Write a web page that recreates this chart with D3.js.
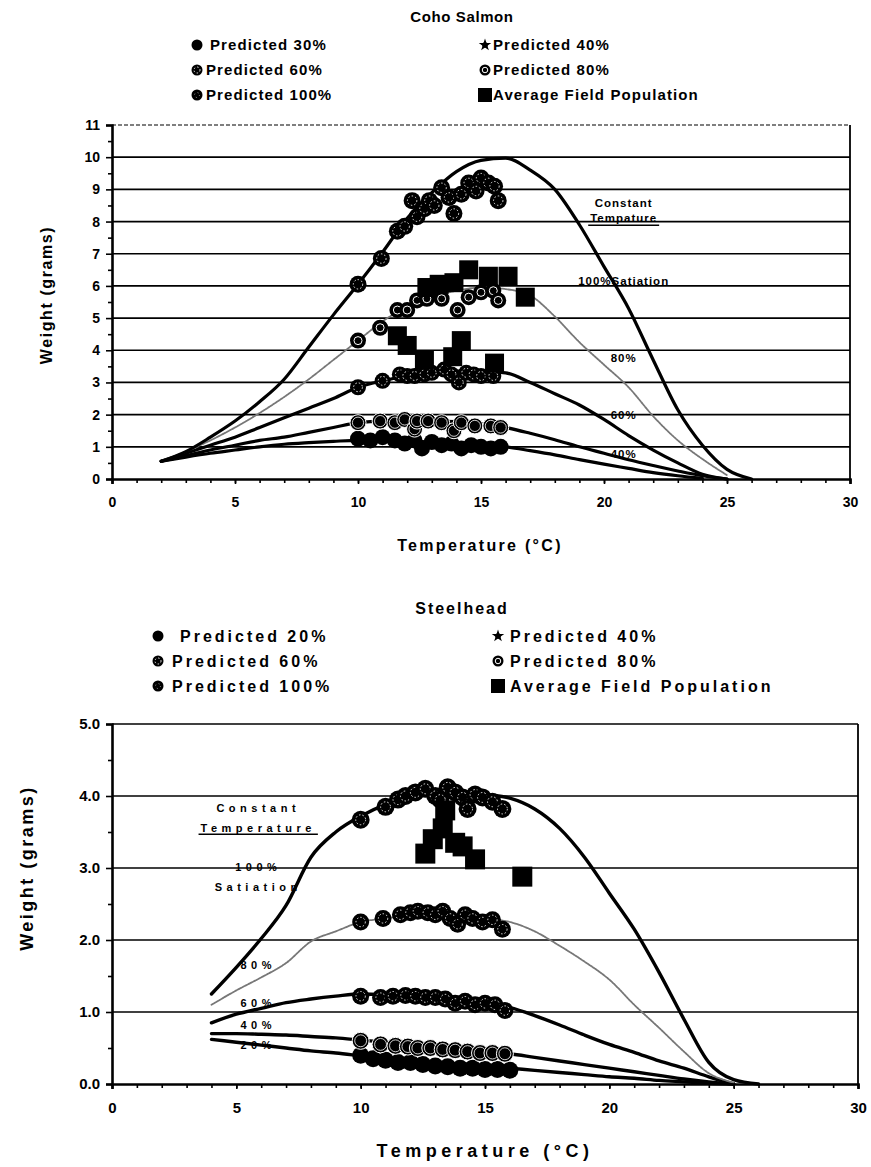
<!DOCTYPE html>
<html>
<head>
<meta charset="utf-8">
<script src="https://cdn.jsdelivr.net/npm/d3@7"></script>
<style>
  body { margin: 0; background: #fff; }
  svg { display: block; font-family: "Liberation Sans", Arial, sans-serif; }
</style>
</head>
<body>
<svg id="chart" width="871" height="1167"></svg>
<script>
// ---------------- Coho Salmon ----------------
const cohoTemps = [2,3,4,5,6,7,8,9,10,11,12,13,14,15,16,17,18,19,20,21,22,23,24,25,26];
const cohoCurve100 = [0.55,0.85,1.3,1.8,2.4,3.1,4.1,5.1,6.05,7.05,8.1,8.9,9.55,9.9,9.97,9.6,9.0,7.9,6.6,5.3,3.7,2.15,1.05,0.3,0];
const cohoCurve80  = [0.55,0.85,1.2,1.6,2.05,2.55,3.1,3.7,4.3,4.9,5.35,5.65,5.85,5.95,5.9,5.7,5.05,4.25,3.55,2.85,1.95,1.2,0.62,0.12,null];
const cohoCurve60  = [0.55,0.8,1.05,1.3,1.6,1.9,2.2,2.5,2.85,3.05,3.2,3.3,3.35,3.35,3.3,3.0,2.65,2.3,1.85,1.35,0.9,0.5,0.15,0,null];
const cohoCurve40  = [0.55,0.72,0.9,1.05,1.2,1.3,1.45,1.6,1.75,1.8,1.8,1.8,1.78,1.72,1.6,1.42,1.22,1.0,0.8,0.6,0.42,0.25,0.1,0,null];
const cohoCurve30  = [0.55,0.68,0.8,0.9,1.0,1.08,1.13,1.17,1.2,1.2,1.18,1.15,1.1,1.05,1.0,0.88,0.75,0.6,0.46,0.33,0.2,0.1,0.02,null,null];

const cohoPred30 = [[10.0,1.25],[10.5,1.2],[11.0,1.3],[11.5,1.2],[11.9,1.1],[12.3,1.2],[12.6,0.95],[13.0,1.15],[13.4,1.05],[13.8,1.1],[14.2,0.95],[14.6,1.05],[15.0,1.0],[15.4,0.95],[15.8,1.0]];
const cohoPred40 = [[10.0,1.75],[10.9,1.8],[11.5,1.75],[11.9,1.85],[12.3,1.55],[12.4,1.8],[12.85,1.8],[13.4,1.75],[13.9,1.5],[14.2,1.75],[14.75,1.65],[15.4,1.65],[15.8,1.6]];
const cohoPred60 = [[10.0,2.85],[11.0,3.05],[11.7,3.25],[12.0,3.2],[12.3,3.2],[12.7,3.25],[13.0,3.3],[13.5,3.4],[13.8,3.25],[14.1,3.0],[14.4,3.3],[14.7,3.25],[15.0,3.2],[15.5,3.2]];
const cohoPred80 = [[10.0,4.3],[10.9,4.7],[11.6,5.25],[12.0,5.25],[12.4,5.55],[12.8,5.6],[13.4,5.6],[14.05,5.25],[14.5,5.65],[15.0,5.8],[15.5,5.85],[15.7,5.55]];
const cohoPred100 = [[10.0,6.05],[10.95,6.85],[11.6,7.7],[11.9,7.85],[12.2,8.65],[12.4,8.15],[12.7,8.4],[12.9,8.65],[13.1,8.5],[13.4,9.05],[13.7,8.75],[13.9,8.25],[14.2,8.85],[14.5,9.2],[14.8,8.95],[15.0,9.35],[15.3,9.2],[15.55,9.1],[15.7,8.65]];
const cohoField = [[11.6,4.45],[12.0,4.15],[12.7,3.7],[13.85,3.8],[14.2,4.3],[15.55,3.6],[12.8,5.95],[13.3,6.05],[13.9,6.1],[14.5,6.5],[15.3,6.3],[16.1,6.3],[16.8,5.65]];

const cohoLegend = ["Predicted 30%","Predicted 40%","Predicted 60%","Predicted 80%","Predicted 100%","Average Field Population"];
const cohoYTicks = [0,1,2,3,4,5,6,7,8,9,10,11];
const cohoNotes = ["Constant","Tempature","100%Satiation","80%","60%","40%"];

// ---------------- Steelhead ----------------
const steelTemps = [4,5,6,7,8,9,10,11,12,13,14,15,16,17,18,19,20,21,22,23,24,25,26];
const steelCurve100 = [1.25,1.62,2.02,2.48,3.15,3.5,3.72,3.88,3.98,4.04,4.05,4.02,3.97,3.82,3.55,3.15,2.65,2.15,1.55,0.9,0.3,0.06,0];
const steelCurve80  = [1.1,1.3,1.48,1.68,1.98,2.12,2.25,2.3,2.35,2.36,2.34,2.3,2.25,2.12,1.92,1.7,1.45,1.1,0.78,0.45,0.15,0.02,null];
const steelCurve60  = [0.85,0.97,1.05,1.13,1.18,1.22,1.25,1.24,1.22,1.2,1.17,1.12,1.06,0.95,0.82,0.68,0.55,0.44,0.32,0.22,0.1,0,null];
const steelCurve40  = [0.7,0.7,0.69,0.68,0.66,0.64,0.61,0.58,0.55,0.52,0.49,0.45,0.42,0.37,0.32,0.27,0.22,0.17,0.12,0.07,0.03,0,null];
const steelCurve20  = [0.62,0.58,0.54,0.5,0.46,0.43,0.39,0.35,0.32,0.29,0.27,0.25,0.22,0.19,0.16,0.13,0.1,0.08,0.05,0.03,0.01,0,null];

const steelPred20 = [[10.0,0.4],[10.5,0.35],[11.0,0.33],[11.5,0.3],[12.0,0.3],[12.5,0.27],[13.0,0.25],[13.5,0.24],[14.0,0.22],[14.5,0.22],[15.0,0.2],[15.5,0.2],[16.0,0.19]];
const steelPred40 = [[10.0,0.6],[10.8,0.55],[11.4,0.53],[11.9,0.52],[12.3,0.5],[12.8,0.5],[13.3,0.48],[13.8,0.47],[14.3,0.45],[14.8,0.43],[15.3,0.43],[15.8,0.42]];
const steelPred60 = [[10.0,1.22],[10.8,1.2],[11.3,1.22],[11.8,1.23],[12.2,1.22],[12.6,1.2],[13.0,1.2],[13.4,1.18],[13.8,1.12],[14.2,1.15],[14.6,1.1],[15.0,1.12],[15.4,1.1],[15.8,1.02]];
const steelPred80 = [[10.0,2.25],[10.9,2.3],[11.6,2.35],[12.0,2.38],[12.3,2.4],[12.7,2.38],[13.0,2.35],[13.3,2.4],[13.6,2.3],[13.9,2.22],[14.2,2.35],[14.5,2.3],[14.9,2.25],[15.3,2.28],[15.7,2.15]];
const steelPred100 = [[10.0,3.67],[11.0,3.85],[11.5,3.95],[11.8,4.0],[12.2,4.05],[12.6,4.1],[13.0,4.0],[13.2,3.95],[13.5,4.12],[13.8,4.05],[14.1,3.98],[14.3,3.82],[14.6,4.02],[14.9,3.98],[15.3,3.92],[15.7,3.82]];
const steelField = [[12.6,3.2],[12.9,3.4],[13.3,3.55],[13.4,3.8],[13.8,3.35],[14.1,3.3],[14.6,3.12],[16.5,2.88]];

const steelLegend = ["Predicted 20%","Predicted 40%","Predicted 60%","Predicted 80%","Predicted 100%","Average Field Population"];
const steelYTicks = [0,1,2,3,4,5];
const steelNotes = ["Constant","Temperature","100%","Satiation","80%","60%","40%","20%"];

const xTicks = [0,5,10,15,20,25,30];
const xMinor = d3.range(0,31,1);

const svg = d3.select("#chart");

// marker painter: predicted points are black discs told apart by white inner detail
function marker(g, style, cx, cy, r) {
  if (style === "square") {
    g.append("rect").attr("x", cx - r).attr("y", cy - r).attr("width", 2*r).attr("height", 2*r).attr("fill", "#000");
    return;
  }
  if (style === "star") {
    g.append("path").attr("d", d3.symbol(d3.symbolStar, r*r*1.6)()).attr("transform", `translate(${cx},${cy})`).attr("fill", "#000");
    g.append("circle").attr("cx", cx).attr("cy", cy).attr("r", r*0.5).attr("fill", "#000");
    return;
  }
  g.append("circle").attr("cx", cx).attr("cy", cy).attr("r", r).attr("fill", "#000")
    .attr("stroke", style === "outline" ? "#fff" : "none").attr("stroke-width", 1);
  if (style === "speckle") {
    g.append("circle").attr("cx", cx).attr("cy", cy).attr("r", r*0.55).attr("fill", "none")
      .attr("stroke", "#fff").attr("stroke-width", 0.9).attr("stroke-dasharray", "1.5,2");
  } else if (style === "ring") {
    g.append("circle").attr("cx", cx).attr("cy", cy).attr("r", r*0.5).attr("fill", "none")
      .attr("stroke", "#fff").attr("stroke-width", 1);
  } else if (style === "outline") {
    g.append("circle").attr("cx", cx).attr("cy", cy).attr("r", r*0.7).attr("fill", "none")
      .attr("stroke", "#fff").attr("stroke-width", 0.8);
  } else if (style === "fleck") {
    g.append("circle").attr("cx", cx).attr("cy", cy).attr("r", r*0.45).attr("fill", "none")
      .attr("stroke", "#bbb").attr("stroke-width", 0.8).attr("stroke-dasharray", "1,3");
  }
}

function drawPanel(cfg) {
  const x = d3.scaleLinear().domain([0, 30]).range([cfg.left, cfg.right]);
  const y = d3.scaleLinear().domain([0, cfg.yMax]).range([cfg.bottom, cfg.top]);
  const g = svg.append("g");

  // title
  g.append("text").attr("x", cfg.titleX).attr("y", cfg.titleY).attr("text-anchor", "middle")
    .attr("font-size", cfg.titleSize).attr("font-weight", "bold")
    .style("letter-spacing", cfg.titleSpacing).text(cfg.title);

  // legend
  cfg.legend.forEach((label, i) => {
    const col = i % 2, row = Math.floor(i / 2);
    const mx = cfg.legendMarkerX[col], ty = cfg.legendRowY[row];
    marker(g, cfg.legendStyles[i], mx, ty, cfg.legendStyles[i] === "square" ? 7 : 5.5);
    g.append("text").attr("x", cfg.legendTextX[i]).attr("y", ty).attr("dy", "0.36em")
      .attr("font-size", cfg.legendSize).attr("font-weight", "bold")
      .style("letter-spacing", cfg.legendSpacing).text(label);
  });

  // horizontal gridlines
  g.append("g").selectAll("line").data(cfg.yTicks.filter(v => v > 0 && v < cfg.yMax)).join("line")
    .attr("x1", cfg.left).attr("x2", cfg.right).attr("y1", d => y(d)).attr("y2", d => y(d))
    .attr("stroke", "#000").attr("stroke-width", 1.7);

  // frame: top and right
  g.append("line").attr("x1", cfg.left).attr("x2", cfg.right).attr("y1", y(cfg.yMax)).attr("y2", y(cfg.yMax))
    .attr("stroke", cfg.topBorderColor).attr("stroke-width", 1.6).attr("stroke-dasharray", cfg.topBorderDash);
  g.append("line").attr("x1", cfg.right).attr("x2", cfg.right).attr("y1", y(cfg.yMax)).attr("y2", y(0))
    .attr("stroke", "#000").attr("stroke-width", 1.8);

  // annotations beneath the curves
  cfg.notes.forEach((t, i) => {
    const p = cfg.notePos[i];
    const tx = g.append("text").attr("x", x(p[0])).attr("y", y(p[1])).attr("dy", "0.36em")
      .attr("text-anchor", "middle").attr("font-size", cfg.noteSize).attr("font-weight", "bold")
      .style("letter-spacing", cfg.noteSpacing).text(t);
    if (cfg.underline.includes(i)) {
      const w = tx.node().getComputedTextLength();
      g.append("line").attr("x1", x(p[0]) - w/2 - 2).attr("x2", x(p[0]) + w/2 + 2)
        .attr("y1", y(p[1]) + cfg.noteSize*0.6).attr("y2", y(p[1]) + cfg.noteSize*0.6)
        .attr("stroke", "#000").attr("stroke-width", 1.5);
    }
  });

  // model curves
  const line = d3.line().defined(d => d[1] != null).x(d => x(d[0])).y(d => y(d[1])).curve(d3.curveMonotoneX);
  cfg.curves.forEach(c => {
    const pts = cfg.temps.map((t, i) => [t, c.values[i]]);
    g.append("path").attr("d", line(pts)).attr("fill", "none")
      .attr("stroke", c.color).attr("stroke-width", c.width)
      .attr("stroke-dasharray", c.dash || null).attr("stroke-linecap", "round");
  });

  // predicted points and field averages
  cfg.points.forEach(s => {
    const pg = g.append("g");
    s.data.forEach(d => marker(pg, s.style, x(d[0]), y(d[1]), s.r));
  });

  // axes
  const ya = g.append("g").attr("transform", `translate(${cfg.left},0)`)
    .call(d3.axisLeft(y).tickValues(cfg.yTicks).tickSize(6).tickPadding(6).tickFormat(cfg.yFormat));
  g.append("g").attr("transform", `translate(${cfg.left},0)`)
    .call(d3.axisLeft(y).tickValues(cfg.yMinor).tickSize(4).tickFormat(""))
    .call(a => a.select(".domain").remove());
  const xa = g.append("g").attr("transform", `translate(0,${cfg.bottom})`)
    .call(d3.axisBottom(x).tickValues(xTicks).tickSize(5).tickPadding(cfg.xPad).tickFormat(d3.format("d")));
  g.append("g").attr("transform", `translate(0,${cfg.bottom})`)
    .call(d3.axisBottom(x).tickValues(xMinor).tickSize(4).tickFormat(""))
    .call(a => a.select(".domain").remove());
  [ya, xa].forEach(a => {
    a.select(".domain").attr("stroke-width", 2.6).attr("stroke", "#000");
    a.selectAll("text").attr("font-size", cfg.tickSize).attr("font-weight", "bold")
      .attr("font-family", "Liberation Sans, Arial, sans-serif").attr("fill", "#000");
  });
  g.selectAll(".tick line").attr("stroke", "#000").attr("stroke-width", 1.6);

  // axis titles
  g.append("text").attr("x", cfg.xTitleX).attr("y", cfg.xTitleY).attr("text-anchor", "middle")
    .attr("font-size", cfg.xTitleSize).attr("font-weight", "bold")
    .style("letter-spacing", cfg.xTitleSpacing).text("Temperature (°C)");
  g.append("text").attr("transform", `translate(${cfg.yTitleX},${cfg.yTitleY}) rotate(-90)`)
    .attr("text-anchor", "middle").attr("font-size", cfg.yTitleSize).attr("font-weight", "bold")
    .style("letter-spacing", cfg.yTitleSpacing).text("Weight (grams)");
}

drawPanel({
  title: "Coho Salmon", titleX: 462, titleY: 22, titleSize: 15, titleSpacing: "0.6px",
  legend: cohoLegend,
  legendStyles: ["solid","star","speckle","ring","fleck","square"],
  legendMarkerX: [197, 485], legendRowY: [45, 70, 95],
  legendTextX: [210, 493, 206, 493, 206, 493], legendSize: 15, legendSpacing: "1.1px",
  left: 112, right: 850, top: 125, bottom: 479, yMax: 11,
  yTicks: cohoYTicks, yMinor: d3.range(0.5, 11, 1), yFormat: d3.format("d"),
  topBorderColor: "#555", topBorderDash: "4,2",
  notes: cohoNotes,
  notePos: [[20.8,8.57],[20.8,8.1],[20.8,6.15],[20.8,3.76],[20.8,1.99],[20.8,0.78]],
  underline: [1], noteSize: 11.5, noteSpacing: "1px",
  temps: cohoTemps,
  curves: [
    { values: cohoCurve30, color: "#000", width: 3.2 },
    { values: cohoCurve40, color: "#000", width: 3.2 },
    { values: cohoCurve60, color: "#000", width: 3.2 },
    { values: cohoCurve80, color: "#777", width: 1.8, dash: "2,1" },
    { values: cohoCurve100, color: "#000", width: 3.2 }
  ],
  points: [
    { data: cohoPred30, style: "solid", r: 8 },
    { data: cohoPred40, style: "outline", r: 8 },
    { data: cohoPred60, style: "speckle", r: 8 },
    { data: cohoPred80, style: "ring", r: 8 },
    { data: cohoPred100, style: "speckle", r: 8.5 },
    { data: cohoField, style: "square", r: 9.5 }
  ],
  tickSize: 14, xPad: 13,
  xTitleX: 480, xTitleY: 551, xTitleSize: 16, xTitleSpacing: "2.3px",
  yTitleX: 52, yTitleY: 295, yTitleSize: 16, yTitleSpacing: "1.6px"
});

drawPanel({
  title: "Steelhead", titleX: 462, titleY: 614, titleSize: 16, titleSpacing: "2px",
  legend: steelLegend,
  legendStyles: ["solid","star","speckle","ring","fleck","square"],
  legendMarkerX: [158, 498], legendRowY: [636, 661, 686],
  legendTextX: [180, 510, 172, 510, 172, 510], legendSize: 16, legendSpacing: "3px",
  left: 112, right: 858, top: 724, bottom: 1084, yMax: 5,
  yTicks: steelYTicks, yMinor: d3.range(0.5, 5, 1), yFormat: d3.format(".1f"),
  topBorderColor: "#000", topBorderDash: null,
  notes: steelNotes,
  notePos: [[5.88,3.83],[5.88,3.56],[5.88,3.02],[5.88,2.74],[5.88,1.65],[5.88,1.12],[5.88,0.82],[5.88,0.54]],
  underline: [1], noteSize: 11, noteSpacing: "4.5px",
  temps: steelTemps,
  curves: [
    { values: steelCurve20, color: "#000", width: 3.4 },
    { values: steelCurve40, color: "#000", width: 3.4 },
    { values: steelCurve60, color: "#000", width: 3.4 },
    { values: steelCurve80, color: "#777", width: 1.8, dash: "2,1" },
    { values: steelCurve100, color: "#000", width: 3.4 }
  ],
  points: [
    { data: steelPred20, style: "solid", r: 8.5 },
    { data: steelPred40, style: "outline", r: 8.5 },
    { data: steelPred60, style: "speckle", r: 8.5 },
    { data: steelPred80, style: "speckle", r: 8.5 },
    { data: steelPred100, style: "speckle", r: 9 },
    { data: steelField, style: "square", r: 10 }
  ],
  tickSize: 15, xPad: 13,
  xTitleX: 485, xTitleY: 1157, xTitleSize: 18, xTitleSpacing: "4.5px",
  yTitleX: 33, yTitleY: 868, yTitleSize: 18, yTitleSpacing: "2.5px"
});
</script>
</body>
</html>
